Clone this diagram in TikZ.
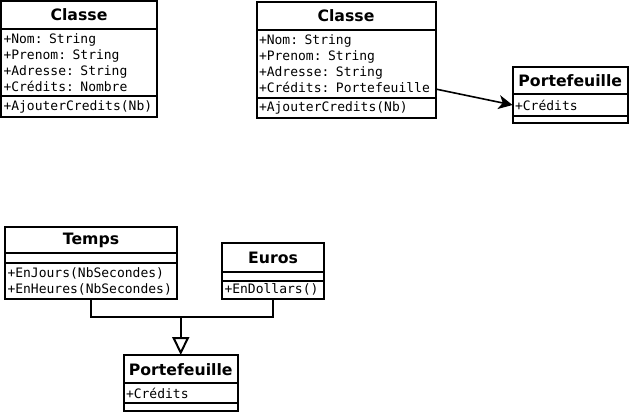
\documentclass[tikz,border=0pt]{standalone}
\usepackage{fontspec}
\setmainfont{DejaVu Sans}
\newfontfamily\umlmono{DejaVu Sans Mono}
\usetikzlibrary{positioning,arrows.meta}
\tikzset{
  umlbox/.style={draw, line width=2pt, outer sep=0pt, inner ysep=0pt},
  classname/.style={umlbox, font=\fontsize{15.7}{18}\selectfont\bfseries},
  members/.style={umlbox, font=\fontsize{13}{16}\selectfont\umlmono, inner xsep=2.5pt, align=left},
  assoc/.style={-{Stealth[length=14pt,width=14pt,inset=4pt]}, line width=1.6pt},
  inherit/.style={-{Triangle[open,length=18pt,width=17pt]}, line width=2pt},
}

\begin{document}
\begin{tikzpicture}[x=1pt, y=-1pt]
  \useasboundingbox (0,0) rectangle (631,413);

  % classe avec credits en nombre
  \node[classname, minimum width=156pt, minimum height=28pt, anchor=north] (c1name) at (79,1) {Classe};
  \node[members, text width=151pt, minimum height=67pt, below=0pt of c1name] (c1attr) {+Nom: String\\+Prenom: String\\+Adresse: String\\+Crédits: Nombre};
  \node[members, text width=151pt, minimum height=21pt, below=0pt of c1attr] (c1meth) {+AjouterCredits(Nb)};

  % classe avec credits en portefeuille
  \node[classname, minimum width=179pt, minimum height=28pt, anchor=north] (c2name) at (346,2) {Classe};
  \node[members, text width=174pt, minimum height=67.5pt, below=0pt of c2name] (c2attr) {+Nom: String\\+Prenom: String\\+Adresse: String\\+Crédits: Portefeuille};
  \node[members, text width=174pt, minimum height=20pt, below=0pt of c2attr] (c2meth) {+AjouterCredits(Nb)};

  \node[classname, minimum width=115.5pt, minimum height=27pt, anchor=north] (p1name) at (570.3,67) {Portefeuille};
  \node[members, text width=110.5pt, minimum height=22pt, below=0pt of p1name] (p1attr) {+Crédits};
  \node[members, text width=110.5pt, minimum height=6.7pt, below=0pt of p1attr] (p1meth) {};

  \draw[assoc] ([yshift=8.5pt]c2attr.south east) -- (p1attr.west);

  % heritage
  \node[classname, minimum width=172pt, minimum height=26.6pt, anchor=north] (tname) at (91,226.7) {Temps};
  \node[members, text width=167pt, minimum height=10pt, below=0pt of tname] (tattr) {};
  \node[members, text width=167pt, minimum height=35.7pt, below=0pt of tattr] (tmeth) {+EnJours(NbSecondes)\\+EnHeures(NbSecondes)};

  \node[classname, minimum width=102pt, minimum height=28.4pt, anchor=north] (ename) at (273,243.3) {Euros};
  \node[members, text width=97pt, minimum height=9pt, below=0pt of ename] (eattr) {};
  \node[members, text width=97pt, minimum height=18.3pt, below=0pt of eattr] (emeth) {+EnDollars()};

  \node[classname, minimum width=114.5pt, minimum height=28.3pt, anchor=north] (p2name) at (180.75,355) {Portefeuille};
  \node[members, text width=109.5pt, minimum height=20pt, below=0pt of p2name] (p2attr) {+Crédits};
  \node[members, text width=109.5pt, minimum height=7.4pt, below=0pt of p2attr] (p2meth) {};

  \coordinate (join) at (180.75,317);
  \draw[line width=2pt] (tmeth.south) |- (join) -| (emeth.south);
  \draw[inherit] (join) -- (p2name.north);
\end{tikzpicture}
\end{document}
